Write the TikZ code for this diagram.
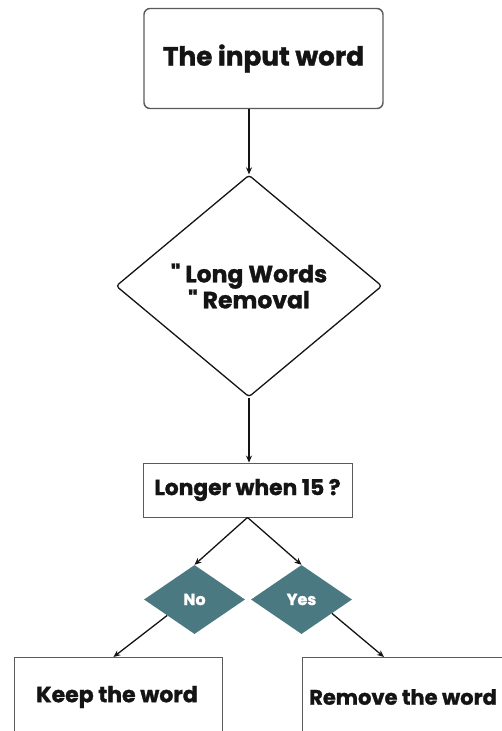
\documentclass[tikz,border=0pt]{standalone}
\usepackage{fontspec}
\setmainfont{Poppins}[Ligatures=TeXOff, BoldFeatures={FakeBold=1.3}]
\usetikzlibrary{shapes.geometric,arrows.meta,calc}
\definecolor{ink}{HTML}{141414}
\definecolor{teal}{HTML}{4B7982}
\definecolor{frame}{HTML}{5A5A5A}
\begin{document}
\begin{tikzpicture}[x=1pt,y=-1pt,
  every node/.style={font=\bfseries, text=ink},
  startbox/.style={draw=frame, line width=1.4pt, rounded corners=6pt,
    minimum width=239pt, minimum height=100pt, inner sep=0pt, font=\fontsize{26.3}{30}\bfseries},
  bigdia/.style={diamond, draw=ink, line width=1.3pt, rounded corners=3pt,
    minimum width=266pt, minimum height=222pt, inner sep=0pt, align=center,
    font=\fontsize{23.5}{26}\bfseries},
  plainbox/.style={draw=frame, line width=0.9pt, inner sep=0pt,
    font=\fontsize{21.8}{24}\bfseries},
  boxtext/.style={font=\fontsize{22}{24}\bfseries},
  answer/.style={diamond, fill=teal, minimum width=101pt, minimum height=69pt,
    inner sep=0pt, text=white, font=\fontsize{16}{18}\bfseries},
  link/.style={draw=ink, line width=1.3pt, -{Stealth[length=7pt,width=6pt]}}]
\useasboundingbox (0,0) rectangle (501,731);

\node[startbox] (inp) at (263.5,58.5) {The input word};
\node[bigdia] (lw) at (249,286) {" Long Words\\" Removal};
\node[plainbox, minimum width=209pt, minimum height=54pt] (lon) at (247.5,490) {Longer when 15 ?};
\node[answer] (no) at (194.5,599.5) {No};
\node[answer] (yes) at (301.5,599.5) {Yes};
\node[plainbox, minimum width=208pt, minimum height=100pt, anchor=north west] (keep) at (14,657) {};
\node[boxtext] (keept) at (117,697) {Keep the word};
\node[plainbox, minimum width=220pt, minimum height=100pt, anchor=north west] (rem) at (302,657) {};
\node[boxtext, anchor=west, inner sep=0pt, font=\fontsize{21}{24}\bfseries] (remt) at (309,697) {Remove the word};

\draw[link] (lw.north |- inp.south) -- (lw.north);
\draw[link] (lw.south) -- (lw.south |- lon.north);
\draw[link] (lon.south) -- (no.north);
\draw[link] (lon.south) -- (yes.north);
\draw[link] ($(no.west)!0.46!(no.south)$) -- ([xshift=-5pt]keep.north);
\draw[link] ($(yes.east)!0.4!(yes.south)$) -- ([xshift=82pt]rem.north west);
\end{tikzpicture}
\end{document}
